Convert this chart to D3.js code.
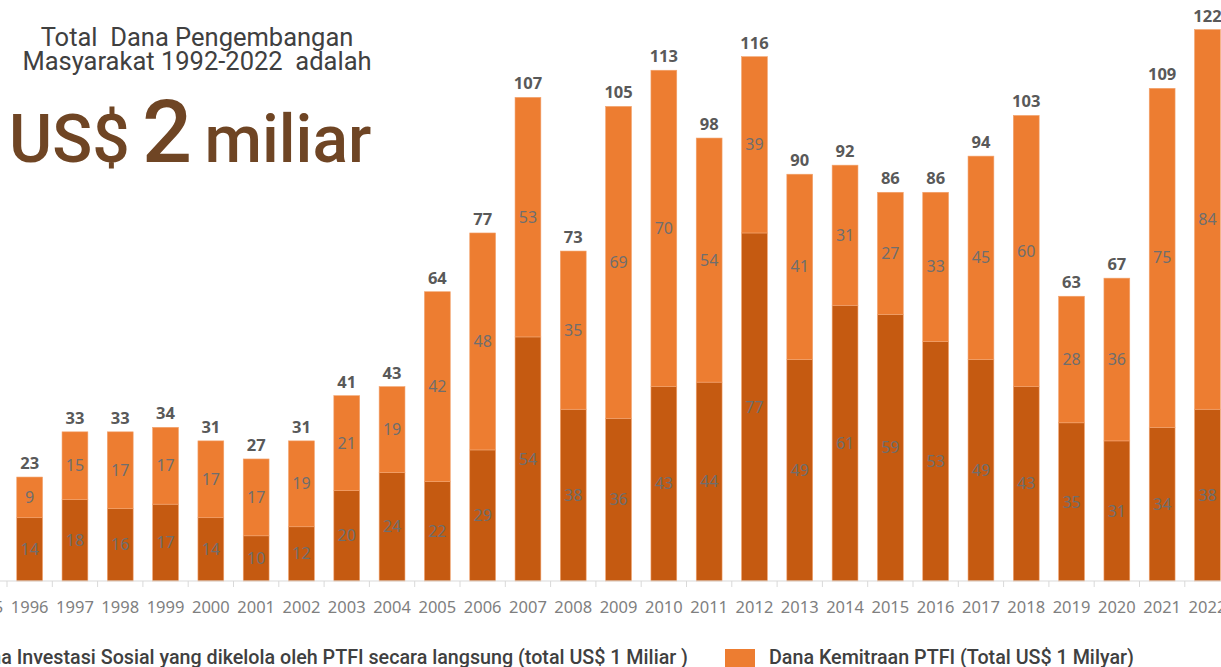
<!DOCTYPE html>
<html>
<head>
<meta charset="utf-8">
<script src="https://cdn.jsdelivr.net/npm/d3@7"></script>
<style>
    body { margin: 0; background: #fff; overflow: hidden; }
    text { white-space: pre; }
    .tick-label { font-family: "Noto Sans", sans-serif; font-size: 16.5px; fill: #7f7f7f; }
    .inner-label { font-family: "Noto Sans", sans-serif; font-size: 16px; fill: #6e6e6e; }
    .total-label { font-family: "Noto Sans", sans-serif; font-size: 16.5px; font-weight: bold; fill: #595959; }
    .legend-text { font-family: Roboto, sans-serif; font-size: 19.7px; font-weight: 500; fill: #404040; }
</style>
</head>
<body>
<div id="chart"></div>
<script>

// years shown on the axis (1995 is cut off at the left edge of the slide)
const years = ["1995","1996","1997","1998","1999","2000","2001","2002","2003","2004","2005","2006","2007","2008",
    "2009","2010","2011","2012","2013","2014","2015","2016","2017","2018","2019","2020","2021","2022"];

// Dana Investasi Sosial (dark) - 1995 value not visible
const investasiSosial = [null,14,18,16,17,14,10,12,20,24,22,29,54,38,36,43,44,77,49,61,59,53,49,43,35,31,34,38];

// Dana Kemitraan PTFI (light)
const danaKemitraan = [null,9,15,17,17,17,17,19,21,19,42,48,53,35,69,70,54,39,41,31,27,33,45,60,28,36,75,84];

// totals printed above each bar
const totals = [null,23,33,33,34,31,27,31,41,43,64,77,107,73,105,113,98,116,90,92,86,86,94,103,63,67,109,122];

const seriesNames = [
    "Dana Investasi Sosial yang dikelola oleh PTFI secara langsung (total US$ 1 Miliar )",
    "Dana Kemitraan PTFI (Total US$ 1 Milyar)"
];

const colors = ["#C55A11", "#ED7D31"];

const width = 1221, height = 667;
const baseY = 581;

const svg = d3.select("#chart").append("svg")
    .attr("width", width)
    .attr("height", height);

// x scale - band per year, range runs a little past both edges like the cropped slide
const x = d3.scaleBand()
    .domain(years)
    .range([-38.3, 1230.1])
    .paddingInner(0.43)
    .paddingOuter(0.215);

const y = d3.scaleLinear()
    .domain([0, 122])
    .range([baseY, baseY - 122 * 4.52]);

// build stacked rows
const rows = years.map((yr, i) => ({
    year: yr,
    a: investasiSosial[i],
    b: danaKemitraan[i],
    total: totals[i]
})).filter(d => d.a !== null);

const stacked = d3.stack().keys(["a", "b"])(rows);

// bars
svg.selectAll(".layer")
    .data(stacked)
    .enter()
    .append("g")
    .attr("class", "layer")
    .attr("fill", (d, i) => colors[i])
    .selectAll("rect")
    .data(d => d)
    .enter()
    .append("rect")
    .attr("x", d => x(d.data.year))
    .attr("y", d => y(d[1]))
    .attr("width", x.bandwidth())
    .attr("height", d => y(d[0]) - y(d[1]))
    .attr("stroke", "#f2a36e")
    .attr("stroke-width", 0.6);

// values inside segments
stacked.forEach(layer => {
    svg.selectAll(".inner-" + layer.key)
        .data(layer)
        .enter()
        .append("text")
        .attr("class", "inner-label")
        .attr("x", d => x(d.data.year) + x.bandwidth() / 2)
        .attr("y", d => (y(d[0]) + y(d[1])) / 2)
        .attr("dy", "0.35em")
        .attr("text-anchor", "middle")
        .text(d => d.data[layer.key]);
});

// totals on top
svg.selectAll(".total-label")
    .data(rows)
    .enter()
    .append("text")
    .attr("class", "total-label")
    .attr("x", d => x(d.year) + x.bandwidth() / 2)
    .attr("y", d => y(d.a + d.b) - 8)
    .attr("text-anchor", "middle")
    .text(d => d.total);

// x axis line + tick marks between categories
svg.append("line")
    .attr("x1", 0).attr("x2", width)
    .attr("y1", baseY).attr("y2", baseY)
    .attr("stroke", "#d9d9d9")
    .attr("stroke-width", 1.2);

svg.selectAll(".tickmark")
    .data(years)
    .enter()
    .append("line")
    .attr("x1", d => x(d) + x.bandwidth() / 2 - x.step() / 2)
    .attr("x2", d => x(d) + x.bandwidth() / 2 - x.step() / 2)
    .attr("y1", baseY)
    .attr("y2", baseY + 6)
    .attr("stroke", "#d9d9d9");

svg.selectAll(".tick-label")
    .data(years)
    .enter()
    .append("text")
    .attr("class", "tick-label")
    .attr("x", d => x(d) + x.bandwidth() / 2)
    .attr("y", 613)
    .attr("text-anchor", "middle")
    .text(d => d);

// title block
const title = svg.append("g").attr("font-family", "Roboto, sans-serif");

title.append("text")
    .attr("x", 197).attr("y", 46)
    .attr("text-anchor", "middle")
    .attr("font-size", 25.5)
    .attr("fill", "#404040")
    .text("Total  Dana Pengembangan");

title.append("text")
    .attr("x", 197).attr("y", 70)
    .attr("text-anchor", "middle")
    .attr("font-size", 25.5)
    .attr("fill", "#404040")
    .text("Masyarakat 1992-2022  adalah");

const big = title.append("text")
    .attr("x", 9).attr("y", 162)
    .attr("fill", "#6F4524")
    .attr("font-weight", 500)
    .attr("font-size", 66);

big.append("tspan").text("US$ ");
big.append("tspan").attr("font-size", 88).attr("dx", -4).text("2");
big.append("tspan").attr("dx", -4).text(" miliar");

// legend at the bottom (left item partly cut off)
const legend = svg.append("g");

legend.append("rect")
    .attr("x", -60).attr("y", 649)
    .attr("width", 30).attr("height", 22)
    .attr("fill", colors[0]);

legend.append("text")
    .attr("class", "legend-text")
    .attr("x", 688).attr("y", 664)
    .attr("text-anchor", "end")
    .text(seriesNames[0]);

legend.append("rect")
    .attr("x", 725).attr("y", 649)
    .attr("width", 30).attr("height", 22)
    .attr("fill", colors[1]);

legend.append("text")
    .attr("class", "legend-text")
    .attr("x", 769).attr("y", 664)
    .text(seriesNames[1]);

</script>
</body>
</html>
